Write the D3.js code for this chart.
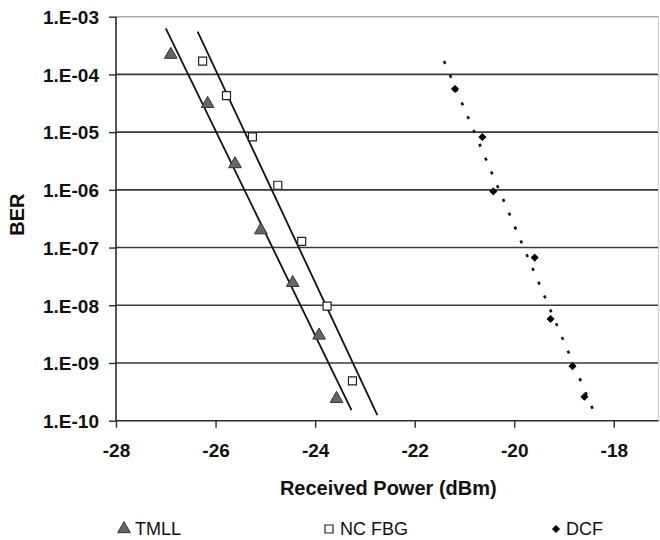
<!DOCTYPE html>
<html>
<head>
<meta charset="utf-8">
<script src="https://cdn.jsdelivr.net/npm/d3@7/dist/d3.min.js"></script>
<style>
  html, body { margin: 0; padding: 0; background: #fff; }
  svg { display: block; font-family: "Liberation Sans", Arial, sans-serif; }
</style>
</head>
<body>
<svg id="chart" width="660" height="540"></svg>
<script>
// Received power (dBm) and measured BER for each configuration
const tmllPower = [-26.90, -26.16, -25.61, -25.09, -24.45, -23.92, -23.57];
const tmllBer   = [2.2e-4, 3.1e-5, 2.8e-6, 2.0e-7, 2.45e-8, 3.0e-9, 2.4e-10];

const fbgPower  = [-26.26, -25.78, -25.26, -24.75, -24.27, -23.76, -23.25];
const fbgBer    = [1.7e-4, 4.3e-5, 8.3e-6, 1.2e-6, 1.28e-7, 9.7e-9, 4.9e-10];

const dcfPower  = [-21.19, -20.64, -20.42, -19.59, -19.27, -18.83, -18.59];
const dcfBer    = [5.6e-5, 8.2e-6, 9.4e-7, 6.7e-8, 5.8e-9, 8.8e-10, 2.6e-10];

// Exponential trendline end points [power, BER]
const tmllTrend = [[-27.00, 6.3e-4], [-23.27, 1.53e-10]];
const fbgTrend  = [[-26.36, 5.5e-4], [-22.75, 1.25e-10]];
const dcfTrend  = [[-21.41, 1.7e-4], [-18.42, 1.57e-10]];

// Axis ticks
const xTicks = [-28, -26, -24, -22, -20, -18];
const yTicks = [1e-10, 1e-9, 1e-8, 1e-7, 1e-6, 1e-5, 1e-4, 1e-3];

const seriesNames = ["TMLL", "NC FBG", "DCF"];

const svg = d3.select("#chart");

const x = d3.scaleLinear().domain([-28, -17.1]).range([116, 658.6]);
const y = d3.scaleLog().domain([1e-10, 1e-3]).range([420.7, 16.7]);

const [x0, x1] = x.range();
const [yb, yt] = y.range();

// Horizontal gridlines at each decade
svg.append("g")
  .selectAll("line")
  .data(yTicks.slice(1, -1))
  .join("line")
  .attr("x1", x0).attr("x2", x1)
  .attr("y1", d => y(d)).attr("y2", d => y(d))
  .attr("stroke", "#3a3a3a")
  .attr("stroke-width", 1.6);

// Top and right frame
svg.append("line")
  .attr("x1", x0).attr("x2", x1).attr("y1", yt).attr("y2", yt)
  .attr("stroke", "#a8a8a8").attr("stroke-width", 1.6);
svg.append("line")
  .attr("x1", x1).attr("x2", x1).attr("y1", yt).attr("y2", yb)
  .attr("stroke", "#d0d0d0").attr("stroke-width", 1.2);

// Axes
const fmtY = d => "1.E-" + String(-Math.round(Math.log10(d))).padStart(2, "0");

const xAxis = svg.append("g")
  .attr("transform", `translate(0,${yb})`)
  .call(d3.axisBottom(x).tickValues(xTicks).tickSize(7).tickPadding(16).tickFormat(d => d));
const yAxis = svg.append("g")
  .attr("transform", `translate(${x0},0)`)
  .call(d3.axisLeft(y).tickValues(yTicks).tickSize(7).tickPadding(10).tickFormat(fmtY));

[xAxis, yAxis].forEach(g => {
  g.select(".domain").attr("stroke", "#2a2a2a").attr("stroke-width", 1.6);
  g.selectAll(".tick line").attr("stroke", "#2a2a2a").attr("stroke-width", 1.4);
  g.selectAll(".tick text")
    .attr("fill", "#111")
    .attr("font-size", 19)
    .attr("font-weight", "bold")
    .attr("font-family", "'Liberation Sans', Arial, sans-serif");
});
xAxis.select(".domain").attr("d", `M${x0},0H${x1}`);
yAxis.select(".domain").attr("d", `M0,${yb}V${yt}`);
yAxis.selectAll(".tick text").attr("dy", "0.36em");

// Axis titles
svg.append("text")
  .attr("x", (x0 + x1) / 2 + 1).attr("y", 495)
  .attr("text-anchor", "middle")
  .attr("font-size", 20).attr("font-weight", "bold").attr("fill", "#111")
  .text("Received Power (dBm)");
svg.append("text")
  .attr("transform", `translate(24,${(yb + yt) / 2 - 4}) rotate(-90)`)
  .attr("text-anchor", "middle")
  .attr("font-size", 20).attr("font-weight", "bold").attr("fill", "#111")
  .text("BER");

// Trendlines
const line = d3.line().x(d => x(d[0])).y(d => y(d[1]));
svg.append("path").datum(tmllTrend).attr("d", line)
  .attr("fill", "none").attr("stroke", "#111").attr("stroke-width", 1.8);
svg.append("path").datum(fbgTrend).attr("d", line)
  .attr("fill", "none").attr("stroke", "#111").attr("stroke-width", 1.8);
svg.append("path").datum(dcfTrend).attr("d", line)
  .attr("fill", "none").attr("stroke", "#111").attr("stroke-width", 2.6)
  .attr("stroke-dasharray", "3,12");

// Markers
const triangle = d3.symbol().type(d3.symbolTriangle).size(70);
const square = d3.symbol().type(d3.symbolSquare).size(64);
const diamond = d3.symbol().type(d3.symbolSquare).size(26);  // drawn rotated 45°

svg.append("g").selectAll("path")
  .data(d3.zip(tmllPower, tmllBer))
  .join("path")
  .attr("d", triangle)
  .attr("transform", d => `translate(${x(d[0])},${y(d[1])})`)
  .attr("fill", "#666").attr("stroke", "#333").attr("stroke-width", 1);

svg.append("g").selectAll("path")
  .data(d3.zip(fbgPower, fbgBer))
  .join("path")
  .attr("d", square)
  .attr("transform", d => `translate(${x(d[0])},${y(d[1])})`)
  .attr("fill", "#fff").attr("stroke", "#222").attr("stroke-width", 1.2);

svg.append("g").selectAll("path")
  .data(d3.zip(dcfPower, dcfBer))
  .join("path")
  .attr("d", diamond)
  .attr("transform", d => `translate(${x(d[0])},${y(d[1])}) rotate(45)`)
  .attr("fill", "#000").attr("stroke", "#000").attr("stroke-width", 0.8);

// Legend
const legendY = 529;
const legendX = [124, 329, 556];
const legendSymbols = [
  { sym: triangle, fill: "#666", stroke: "#333", sw: 1, rot: 0 },
  { sym: square,   fill: "#fff", stroke: "#222", sw: 1.2, rot: 0 },
  { sym: diamond,  fill: "#000", stroke: "#000", sw: 0.8, rot: 45 }
];
const legend = svg.append("g").selectAll("g")
  .data(seriesNames)
  .join("g")
  .attr("transform", (d, i) => `translate(${legendX[i]},${legendY})`);
legend.append("path")
  .attr("d", (d, i) => legendSymbols[i].sym())
  .attr("transform", (d, i) => `rotate(${legendSymbols[i].rot})`)
  .attr("fill", (d, i) => legendSymbols[i].fill)
  .attr("stroke", (d, i) => legendSymbols[i].stroke)
  .attr("stroke-width", (d, i) => legendSymbols[i].sw);
legend.append("text")
  .attr("x", (d, i) => i === 2 ? 10 : 11)
  .attr("dy", "0.36em")
  .attr("font-size", 18)
  .attr("fill", "#111")
  .text(d => d);
</script>
</body>
</html>
